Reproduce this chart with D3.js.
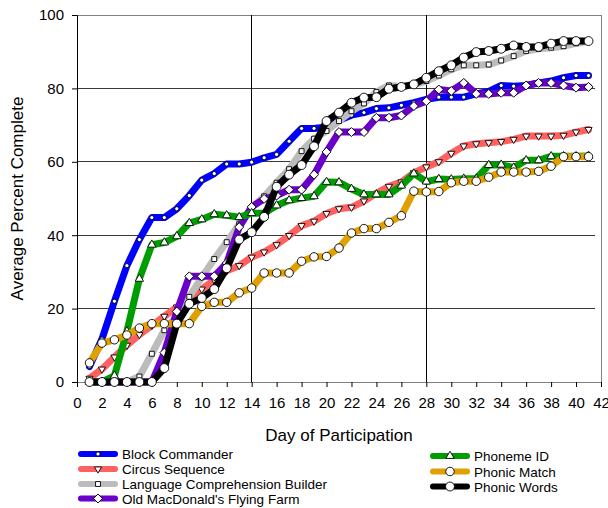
<!DOCTYPE html>
<html>
<head>
<meta charset="utf-8">
<script src="https://cdn.jsdelivr.net/npm/d3@7"></script>
<style>
  body { margin: 0; background: #fff; }
  svg { font-family: "Liberation Sans", Arial, sans-serif; }
</style>
</head>
<body>
<div id="chart"></div>
<script>
// values, days 1..41
var days = d3.range(1, 42);
var blockCommander = [4.2, 11.7, 22, 31.7, 38.8, 44.8, 44.8, 47.2, 50.8, 55.0, 56.8, 59.4, 59.4, 59.9, 61.1, 62.0, 65.6, 69.1, 69.1, 69.5, 71.3, 72.7, 73.4, 74.5, 74.7, 75.4, 76.1, 77.0, 77.6, 77.6, 77.6, 78.5, 79.2, 80.8, 80.6, 80.8, 81.5, 82.0, 82.9, 83.5, 83.5];
var circusSequence = [1.0, 3.5, 6.8, 10.0, 12.9, 15.4, 17.9, 20.4, 22.9, 25.3, 27.8, 30.3, 31.7, 34.0, 35.4, 37.4, 39.9, 42.6, 43.8, 45.9, 47.2, 47.6, 49.3, 51.4, 53.3, 54.5, 57.0, 58.6, 60.0, 62.3, 64.3, 64.9, 65.2, 65.5, 66.1, 67.0, 67.0, 67.0, 67.2, 68.1, 68.8];
var languageComp = [0, 0, 0, 0, 1.5, 7.7, 14.1, 17.9, 23.2, 28.5, 33.5, 38.1, 43.0, 47.4, 50.6, 54.3, 58.0, 62.9, 66.3, 68.4, 71.1, 73.8, 75.9, 79.0, 80.8, 80.5, 81.0, 82.0, 83.5, 85.2, 86.3, 86.3, 86.5, 87.6, 88.8, 90.2, 90.8, 91.1, 91.5, 92.3, 92.8];
var oldMacDonald = [0, 0, 0, 0, 0, 0, 8.0, 19.2, 28.8, 28.8, 28.8, 32.4, 42.2, 47.7, 49.9, 50.8, 52.4, 52.4, 56.5, 62.7, 68.1, 68.1, 68.1, 72.0, 72.0, 72.6, 75.2, 76.5, 79.7, 79.3, 81.5, 78.5, 78.5, 78.8, 78.8, 80.8, 81.5, 81.5, 80.8, 80.2, 80.4];
var phonemeId = [0, 0, 1.7, 13.8, 28.1, 37.4, 38.0, 39.7, 43.3, 44.3, 45.7, 45.4, 44.9, 46.0, 46.0, 48.1, 49.5, 50.1, 50.6, 54.5, 54.4, 52.6, 51.1, 51.1, 51.1, 53.5, 56.8, 54.6, 55.3, 55.2, 55.4, 55.4, 59.1, 59.2, 58.4, 60.4, 60.4, 61.5, 61.5, 61.5, 61.6];
var phonicMatch = [5.2, 10.6, 11.5, 12.8, 14.7, 15.9, 15.9, 15.9, 15.9, 20.6, 21.7, 21.7, 24.3, 25.6, 29.7, 29.7, 29.7, 32.9, 34.1, 34.2, 36.5, 40.6, 41.8, 41.8, 43.5, 45.3, 52.0, 51.8, 51.9, 54.3, 54.7, 54.7, 55.8, 57.2, 57.2, 57.2, 57.4, 58.8, 61.4, 61.4, 61.4];
var phonicWords = [0, 0, 0, 0, 0, 0, 3.8, 15.9, 21.3, 22.9, 25.3, 31.0, 38.8, 40.8, 45.0, 53.2, 56.5, 59.1, 64.2, 71.1, 73.4, 76.1, 77.5, 77.6, 79.9, 80.4, 81.1, 82.9, 84.7, 86.3, 88.4, 89.9, 90.2, 90.8, 91.7, 91.3, 91.3, 92.2, 92.9, 92.9, 92.9];

var xTicks = d3.range(0, 43, 2);
var yTicks = [0, 20, 40, 60, 80, 100];
var xGrid = [14, 28];

var series = [
  {name: "Block Commander", values: blockCommander, color: "#0000ff", shape: "circle", size: 14},
  {name: "Circus Sequence", values: circusSequence, color: "#ff6060", shape: "down", size: 22},
  {name: "Language Comprehension Builder", values: languageComp, color: "#bcbcbc", shape: "square", size: 24},
  {name: "Old MacDonald's Flying Farm", values: oldMacDonald, color: "#6a00cc", shape: "diamond", size: 40},
  {name: "Phoneme ID", values: phonemeId, color: "#009d00", shape: "up", size: 30},
  {name: "Phonic Match", values: phonicMatch, color: "#e0a000", shape: "circle", size: 56},
  {name: "Phonic Words", values: phonicWords, color: "#000000", shape: "circle", size: 62}
];

var width = 608, height = 508;
var svg = d3.select("#chart").append("svg").attr("width", width).attr("height", height);

var x = d3.scaleLinear().domain([0, 42]).range([77, 601]);
var y = d3.scaleLinear().domain([0, 100]).range([382, 15]);

// grid
svg.selectAll("line.hgrid").data(yTicks.filter(function(d){return d > 0 && d < 100})).enter().append("line")
  .attr("x1", x(0)).attr("x2", x(42) - 6)
  .attr("y1", function(d){return y(d)}).attr("y2", function(d){return y(d)})
  .attr("stroke", "#3a3a3a").attr("stroke-width", 1).style("shape-rendering", "crispEdges");
svg.append("line").attr("x1", x(0)).attr("x2", x(42)).attr("y1", y(100)).attr("y2", y(100))
  .attr("stroke", "#808080").style("shape-rendering", "crispEdges");
svg.append("line").attr("x1", x(42)).attr("x2", x(42)).attr("y1", y(100)).attr("y2", y(0))
  .attr("stroke", "#808080").style("shape-rendering", "crispEdges");
svg.selectAll("line.vgrid").data(xGrid).enter().append("line")
  .attr("x1", function(d){return x(d)}).attr("x2", function(d){return x(d)})
  .attr("y1", y(100)).attr("y2", y(0))
  .attr("stroke", "#000").style("shape-rendering", "crispEdges");

// axes
var xAxis = d3.axisBottom(x).tickValues(xTicks).tickSize(5).tickPadding(10);
var gx = svg.append("g").attr("transform", "translate(0," + y(0) + ")").call(xAxis);
var yAxis = d3.axisLeft(y).tickValues(yTicks).tickSize(5).tickPadding(8);
var gy = svg.append("g").attr("transform", "translate(" + x(0) + ",0)").call(yAxis);
[gx, gy].forEach(function(g){
  g.select(".domain").attr("stroke", "#000");
  g.selectAll(".tick line").attr("stroke", "#000");
  g.selectAll(".tick text").attr("fill", "#000").style("font-size", "15px")
    .style("font-family", "'Liberation Sans', Arial, sans-serif");
});
gx.select(".domain").attr("stroke", "#808080");

svg.append("text").attr("x", (x(0) + x(42)) / 2).attr("y", 441)
  .attr("text-anchor", "middle").style("font-size", "17px").text("Day of Participation");
svg.append("text").attr("transform", "translate(23," + ((y(0) + y(100)) / 2) + ") rotate(-90)")
  .attr("text-anchor", "middle").style("font-size", "17px").text("Average Percent Complete");

function symbolPath(s) {
  var type = s.shape == "circle" ? d3.symbolCircle : (s.shape == "square" || s.shape == "diamond") ? d3.symbolSquare : d3.symbolTriangle;
  return d3.symbol().type(type).size(s.size)();
}
function symbolRot(s) {
  return s.shape == "down" ? 180 : s.shape == "diamond" ? 45 : 0;
}

var line = d3.line().x(function(d){return x(d[0])}).y(function(d){return y(d[1])});

var groups = svg.selectAll("g.series").data(series).enter().append("g").attr("class", "series");
groups.append("path")
  .attr("d", function(s){return line(days.map(function(d, i){return [d, s.values[i]]}))})
  .attr("fill", "none").attr("stroke", function(s){return s.color})
  .attr("stroke-width", 7).attr("stroke-linejoin", "round").attr("stroke-linecap", "round");
groups.each(function(s){
  d3.select(this).selectAll("path.pt").data(days).enter().append("path")
    .attr("class", "pt")
    .attr("d", symbolPath(s))
    .attr("transform", function(d, i){return "translate(" + x(d) + "," + y(s.values[i]) + ") rotate(" + symbolRot(s) + ")"})
    .attr("fill", "#fff").attr("stroke", "#000").attr("stroke-width", 0.9);
});

// legend
var legPos = [[81, 454], [81, 469], [81, 484], [81, 498.5], [433, 456], [433, 471.5], [433, 486.5]];
var leg = svg.selectAll("g.leg").data(series).enter().append("g")
  .attr("transform", function(s, i){return "translate(" + legPos[i][0] + "," + legPos[i][1] + ")"});
leg.append("line").attr("x1", 0).attr("x2", 34).attr("y1", 0).attr("y2", 0)
  .attr("stroke", function(s){return s.color}).attr("stroke-width", 6).attr("stroke-linecap", "round");
leg.append("path").attr("d", function(s){return symbolPath(s)})
  .attr("transform", function(s){return "translate(17,0) rotate(" + symbolRot(s) + ")"})
  .attr("fill", "#fff").attr("stroke", "#000").attr("stroke-width", 0.9);
leg.append("text").attr("x", 41).attr("y", 5).style("font-size", "13.5px").text(function(s){return s.name});
</script>
</body>
</html>
